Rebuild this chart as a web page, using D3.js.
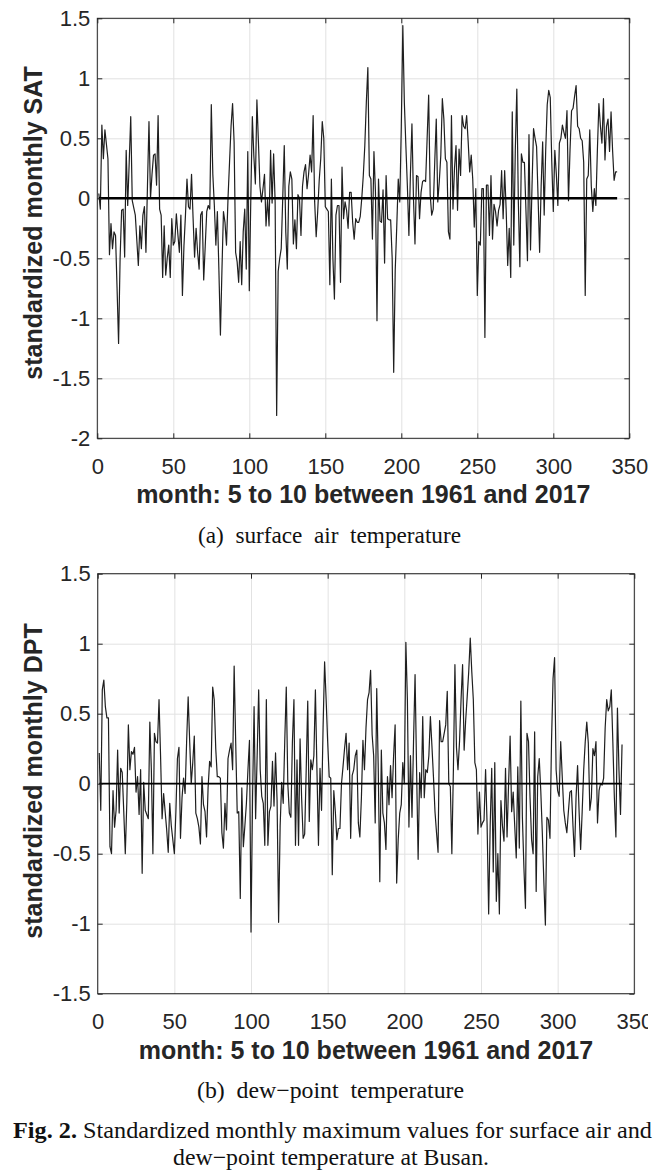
<!DOCTYPE html>
<html><head><meta charset="utf-8">
<script src="https://cdn.jsdelivr.net/npm/d3@7/dist/d3.min.js"></script>
<style>body{margin:0;background:#fff}svg{display:block}</style>
</head><body>
<svg id="c" width="667" height="1173"></svg>
<script>
// month index 1..342 (months 5-10, 1961-2017)
const months = d3.range(1, 343);

const satValues = [
0.04,-0.09,0.61,0.33,0.57,0.45,0.33,-0.47,-0.21,-0.42,
-0.28,-0.31,-0.75,-1.21,-0.5,-0.1,-0.09,-0.49,0.4,-0.06,
0.3,0.68,-0.02,-0.08,-0.14,-0.35,-0.56,-0.23,-0.42,-0.14,
-0.07,-0.45,0.1,0.64,0.0,0.2,0.36,0.37,0.11,0.69,
-0.09,-0.14,-0.66,-0.23,-0.64,-0.5,-0.39,-0.66,-0.17,-0.39,
-0.36,-0.13,-0.3,-0.45,-0.14,-0.81,-0.4,-0.14,0.16,-0.07,
-0.09,0.2,-0.16,-0.49,-0.25,-0.45,-0.59,-0.14,-0.11,-0.68,
-0.4,-0.11,-0.06,-0.09,0.78,0.2,-0.06,-0.39,-0.11,-0.6,
-1.14,-0.6,-0.11,-0.2,-0.39,0.0,0.3,0.6,0.79,0.47,
-0.45,-0.53,-0.7,-0.36,-0.72,-0.28,-0.09,-0.59,0.39,-0.77,
0.0,0.68,0.35,0.12,0.82,0.47,0.1,-0.03,0.08,0.2,
-0.23,-0.01,-0.23,0.4,-0.04,0.37,-0.03,-1.81,-0.61,-0.5,
-0.42,0.0,0.44,-0.28,-0.59,0.1,0.22,0.16,-0.38,-0.18,
-0.42,0.03,0.0,-0.31,0.1,0.22,0.28,0.08,0.2,0.36,
0.22,0.69,-0.03,-0.32,-0.11,0.15,0.33,0.64,0.5,-0.07,
-0.09,-0.11,-0.72,0.16,-0.5,-0.84,-0.14,-0.06,-0.06,-0.7,
0.26,-0.17,-0.03,-0.1,-0.25,0.05,0.05,-0.2,-0.34,-0.17,
-0.2,-0.2,-0.15,0.0,0.19,0.44,0.8,1.09,0.19,0.16,
-0.34,0.39,0.05,-1.02,0.16,-0.19,-0.2,0.07,-0.54,0.19,
-0.17,-0.18,-0.18,-0.5,-1.45,-0.6,-0.24,0.16,-0.03,0.6,
1.44,0.8,0.44,0.1,-0.31,0.2,0.62,0.0,-0.38,0.19,
0.18,-0.17,0.05,0.14,0.15,0.14,0.5,0.86,0.03,-0.14,
-0.09,0.3,0.66,-0.03,0.14,0.36,0.83,0.66,0.33,0.3,
-0.28,-0.34,0.69,-0.09,0.25,0.44,-0.1,0.41,0.19,0.69,
0.6,0.58,0.69,0.47,0.22,0.36,0.16,-0.24,0.08,-0.81,
-0.36,-0.39,0.08,0.08,-1.16,0.11,0.11,-0.31,0.19,-0.34,
-0.05,-0.11,-0.23,-0.1,-0.05,0.23,-0.17,0.23,-0.1,-0.56,
-0.25,-0.66,0.72,-0.39,0.4,0.91,-0.03,-0.57,0.37,0.3,
0.3,-0.1,-0.52,0.53,-0.43,0.1,0.58,0.5,0.43,0.0,
-0.45,0.1,0.47,-0.14,0.4,0.78,0.9,0.84,0.3,-0.11,
0.4,0.2,-0.06,0.46,0.5,0.61,0.55,0.5,0.73,-0.02,
0.4,0.73,0.75,0.85,0.94,0.6,0.58,0.5,0.48,0.3,
-0.81,0.16,0.19,0.57,0.1,-0.11,0.08,-0.06,0.4,0.79,
0.6,0.46,0.83,0.32,0.6,0.66,0.39,0.72,0.4,0.15,
0.22,0.22
];

const dptValues = [
0.22,-0.19,0.67,0.74,0.55,0.47,0.47,-0.45,-0.5,-0.05,
-0.31,-0.19,0.24,-0.21,0.11,0.08,-0.2,-0.5,-0.13,0.42,
0.1,0.23,0.21,0.26,-0.06,0.05,-0.22,0.1,-0.64,0.01,
-0.19,-0.22,-0.25,0.44,0.1,-0.5,0.36,0.3,0.29,0.6,
0.2,-0.25,-0.07,-0.2,-0.33,-0.49,-0.14,-0.3,-0.4,-0.5,
-0.2,0.18,0.26,-0.39,-0.1,0.04,-0.07,0.3,0.62,0.3,
0.0,0.15,0.34,-0.21,-0.25,-0.31,-0.43,0.05,-0.15,-0.2,
-0.38,-0.03,0.16,0.12,0.69,0.6,0.25,0.05,0.05,0.04,
-0.35,-0.46,-0.14,-0.33,0.18,0.24,0.29,0.1,0.84,0.3,
-0.21,-0.2,-0.82,-0.03,-0.45,-0.3,-0.14,0.1,0.31,-1.06,
-0.1,0.55,-0.25,0.2,0.67,0.1,-0.09,-0.14,-0.44,0.6,
-0.44,-0.2,-0.16,0.16,-0.16,0.22,-0.12,-0.99,-0.3,0.01,
-0.14,0.3,0.69,0.0,-0.21,-0.24,0.3,0.6,-0.44,0.17,
-0.44,0.32,-0.1,-0.39,-0.36,0.1,0.59,-0.27,0.17,0.1,
0.2,0.67,0.1,-0.44,0.11,-0.19,0.4,0.87,0.6,0.3,
0.05,0.04,-0.65,-0.05,-0.2,-0.4,-0.32,-0.32,0.0,0.12,
0.25,0.36,0.1,0.29,-0.39,0.06,0.1,0.2,0.24,-0.28,
-0.38,-0.1,0.31,0.1,0.4,0.6,0.65,0.81,0.35,0.2,
-0.28,0.68,0.1,-0.7,0.24,-0.21,-0.28,-0.47,0.05,-0.15,
0.13,-0.1,0.2,0.42,-0.71,-0.4,-0.21,-0.15,0.15,0.0,
1.01,0.6,-0.31,0.2,-0.24,0.3,0.78,0.1,-0.54,0.08,
-0.1,0.48,-0.1,0.1,0.08,0.2,0.48,0.27,0.05,-0.2,
-0.35,-0.49,0.45,0.3,0.3,0.36,0.42,0.66,0.0,-0.02,
-0.5,0.1,0.85,0.26,0.1,0.3,0.6,0.85,0.24,0.45,
0.62,0.8,1.04,0.8,0.6,0.15,0.1,-0.36,-0.06,-0.31,
-0.28,-0.26,0.1,-0.3,-0.93,-0.3,0.11,-0.63,0.15,-0.84,
-0.5,-0.93,-0.12,-0.3,-0.41,0.11,-0.38,0.0,0.34,-0.2,
-0.06,-0.3,-0.53,0.12,-0.46,0.59,-0.24,-0.6,-0.89,0.36,
0.3,-0.1,-0.4,-0.5,0.37,-0.77,0.05,0.18,-0.05,-0.35,
-0.7,-1.01,-0.24,-0.26,-0.39,0.3,0.75,0.9,0.1,-0.05,
-0.09,0.3,0.05,-0.19,-0.28,-0.35,-0.2,-0.06,-0.05,-0.3,
-0.52,-0.1,0.13,-0.2,-0.47,-0.2,0.1,0.3,0.44,0.29,
-0.19,-0.1,0.25,0.2,0.3,-0.28,-0.05,0.0,-0.01,0.04,
0.4,0.6,0.52,0.55,0.67,0.3,-0.1,-0.38,0.54,0.1,
-0.22,0.28
];

const xTicks = [0, 50, 100, 150, 200, 250, 300, 350];
const satYTicks = [-2, -1.5, -1, -0.5, 0, 0.5, 1, 1.5];
const dptYTicks = [-1.5, -1, -0.5, 0, 0.5, 1, 1.5];
const xLabelText = "month: 5 to 10 between 1961 and 2017";
const satYLabelText = "standardized monthly SAT";
const dptYLabelText = "standardized monthly DPT";
const captionA = "(a)  surface  air  temperature";
const captionB = "(b)  dew−point  temperature";
const figLabel = "Fig. 2.";
const figLine1 = " Standardized monthly maximum values for surface air and";
const figLine2 = "dew−point temperature at Busan.";

const svg = d3.select("#c");
svg.append("rect").attr("width", 667).attr("height", 1173).attr("fill", "#fff");

const SANS = "'Liberation Sans', Arial, Helvetica, sans-serif";
const SERIF = "'Liberation Serif', 'Times New Roman', serif";
const AX = "#262626";

function panel(opt) {
  const x = d3.scaleLinear().domain([0, 350]).range([opt.left, opt.right]);
  const y = d3.scaleLinear().domain(opt.yDomain).range([opt.bottom, opt.top]);
  const H = opt.bottom - opt.top, W = opt.right - opt.left;
  const g = svg.append("g");

  // grid
  const gx = g.append("g").attr("transform", `translate(0,${opt.bottom})`)
    .call(d3.axisBottom(x).tickValues(xTicks).tickSize(-H).tickFormat(""));
  const gy = g.append("g").attr("transform", `translate(${opt.left},0)`)
    .call(d3.axisLeft(y).tickValues(opt.yTicks).tickSize(-W).tickFormat(""));
  [gx, gy].forEach(a => {
    a.select(".domain").remove();
    a.selectAll("line").attr("stroke", "#e2e2e2").attr("stroke-width", 1);
  });

  // data
  const line = d3.line().x((d, i) => x(months[i])).y(d => y(d));
  g.append("path").datum(opt.values).attr("d", line)
    .attr("fill", "none").attr("stroke", "#1f1f1f").attr("stroke-width", 1.2)
    .attr("stroke-linejoin", "round");

  // zero line
  g.append("line")
    .attr("x1", x(months[0])).attr("x2", x(months[months.length - 1]))
    .attr("y1", y(0)).attr("y2", y(0))
    .attr("stroke", "#000").attr("stroke-width", opt.zeroWidth);

  // box
  g.append("rect").attr("x", opt.left).attr("y", opt.top).attr("width", W).attr("height", H)
    .attr("fill", "none").attr("stroke", AX).attr("stroke-width", 1);

  // ticks + labels
  const bottomAx = g.append("g").attr("transform", `translate(0,${opt.bottom})`)
    .call(d3.axisBottom(x).tickValues(xTicks).tickSize(-5).tickSizeOuter(0).tickPadding(20)
      .tickFormat(d => String(d)));
  const topAx = g.append("g").attr("transform", `translate(0,${opt.top})`)
    .call(d3.axisTop(x).tickValues(xTicks).tickSize(-5).tickSizeOuter(0).tickFormat(""));
  const leftAx = g.append("g").attr("transform", `translate(${opt.left},0)`)
    .call(d3.axisLeft(y).tickValues(opt.yTicks).tickSize(-5).tickSizeOuter(0).tickPadding(7)
      .tickFormat(d => String(d)));
  const rightAx = g.append("g").attr("transform", `translate(${opt.right},0)`)
    .call(d3.axisRight(y).tickValues(opt.yTicks).tickSize(-5).tickSizeOuter(0).tickFormat(""));
  [bottomAx, topAx, leftAx, rightAx].forEach(a => {
    a.select(".domain").remove();
    a.selectAll("line").attr("stroke", AX).attr("stroke-width", 1);
    a.selectAll("text").attr("fill", AX).attr("font-family", SANS).attr("font-size", 22);
  });
  if (opt.clipRight) {
    const id = "clip" + Math.round(opt.top);
    svg.append("clipPath").attr("id", id).append("rect")
      .attr("x", 0).attr("y", 0).attr("width", opt.clipRight).attr("height", 1173);
    bottomAx.attr("clip-path", `url(#${id})`);
  }

  // axis labels
  svg.append("text").text(xLabelText)
    .attr("x", (opt.left + opt.right) / 2).attr("y", opt.bottom + 65)
    .attr("text-anchor", "middle").attr("font-family", SANS).attr("font-weight", "bold")
    .attr("font-size", 25).attr("fill", AX);
  svg.append("text").text(opt.yLabel)
    .attr("transform", `translate(${opt.yLabelX},${opt.yLabelY}) rotate(-90)`)
    .attr("text-anchor", "middle").attr("dominant-baseline", "central")
    .attr("font-family", SANS).attr("font-weight", "bold")
    .attr("font-size", 25).attr("fill", AX);
}

panel({left: 97.3, right: 629.3, top: 18.3, bottom: 438.3, yDomain: [-2, 1.5],
  yTicks: satYTicks, values: satValues, zeroWidth: 2.6,
  yLabel: satYLabelText, yLabelX: 33, yLabelY: 223});
panel({left: 97.7, right: 634.3, top: 573.7, bottom: 993.7, yDomain: [-1.5, 1.5],
  yTicks: dptYTicks, values: dptValues, zeroWidth: 1.8, clipRight: 648,
  yLabel: dptYLabelText, yLabelX: 33, yLabelY: 781});

// captions
function serifText(txt, x, y, size, len, bold) {
  return svg.append("text").attr("x", x).attr("y", y)
    .attr("text-anchor", "middle").attr("font-family", SERIF).attr("font-size", size)
    .attr("font-weight", bold ? "bold" : "normal").attr("fill", "#111")
    .attr("textLength", len).attr("lengthAdjust", "spacingAndGlyphs")
    .style("white-space", "pre").text(txt);
}
serifText(captionA, 329.5, 543, 23, 263);
serifText(captionB, 330.5, 1098, 23, 267);

const fig = svg.append("text").attr("x", 13).attr("y", 1138)
  .attr("font-family", SERIF).attr("font-size", 23).attr("fill", "#111")
  .attr("textLength", 639).attr("lengthAdjust", "spacingAndGlyphs")
  .style("white-space", "pre");
fig.append("tspan").attr("font-weight", "bold").text(figLabel);
fig.append("tspan").text(figLine1);
serifText(figLine2, 331, 1165, 23, 316);
</script>
</body></html>
